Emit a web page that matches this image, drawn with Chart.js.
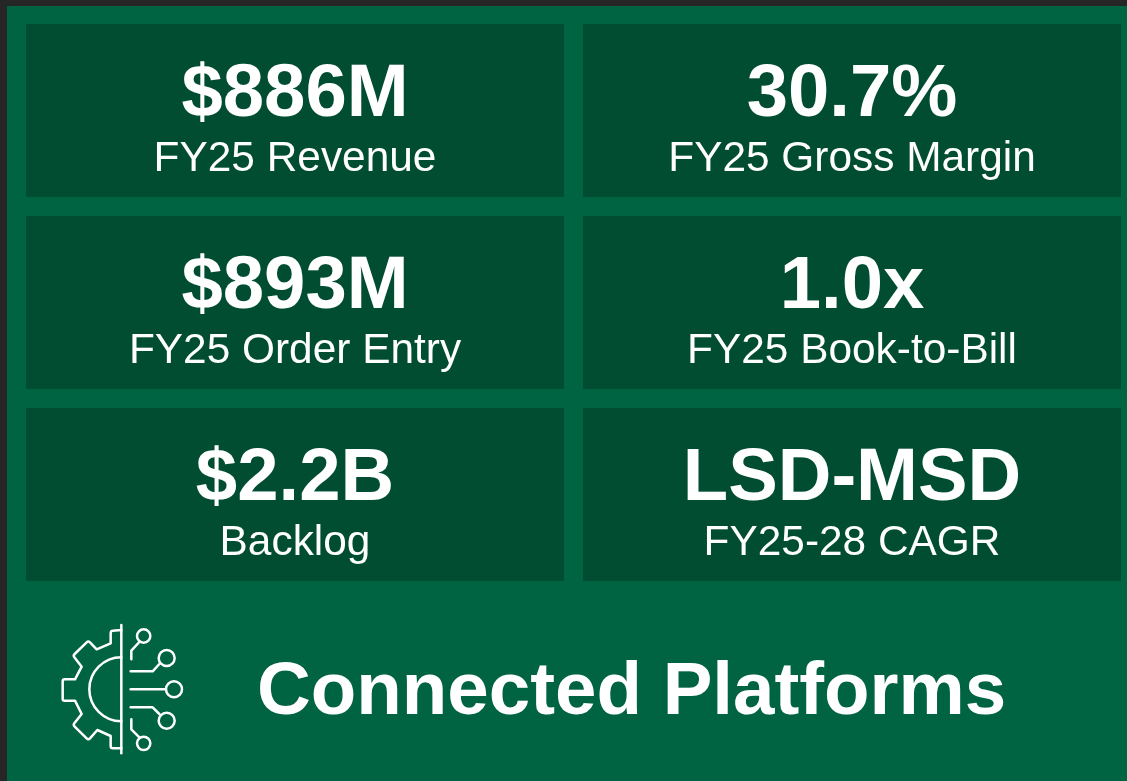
<!DOCTYPE html>
<html>
<head>
<meta charset="utf-8">
<title>Connected Platforms</title>
<script src="https://cdn.jsdelivr.net/npm/chart.js@4"></script>
<style>
  html, body { margin: 0; padding: 0; width: 1127px; height: 781px; overflow: hidden; background: #262626; }
  #panel { position: absolute; left: 7px; top: 6px; width: 1120px; height: 775px; background: #006341; }
  #wrap { position: absolute; left: 0; top: 0; width: 1140px; height: 781px; }
  #icon { position: absolute; left: 40px; top: 610px; width: 160px; height: 160px; }
  #icon * { fill: none; stroke: #fff; stroke-width: 7.5; stroke-linecap: round; stroke-linejoin: round; }
</style>
</head>
<body>
<div id="panel"></div>
<div id="wrap"><canvas id="chart" width="1140" height="781"></canvas></div>

<svg id="icon" viewBox="0 0 480 480">
  <path d="M244 60L218 62Q212 62 212 70V100L170 118L150 97Q145 92 140 97L104 132Q99 137 103 142L125 170L105 208H74Q68 208 68 214V266Q68 272 74 272H105L125 312L103 340Q99 345 104 350L140 385Q145 390 150 385L172 360L212 378V408Q212 415 218 415L244 415"/>
  <path d="M244 142A96 96 0 0 0 244 334"/>
  <path d="M244 45V430"/>
  <path d="M274 148V122L298 96"/><circle cx="311" cy="78" r="20"/>
  <path d="M272 184H338L358 162"/><circle cx="380" cy="144" r="24"/>
  <path d="M272 238H376"/><circle cx="402" cy="238" r="24"/>
  <path d="M272 292H338L358 312"/><circle cx="380" cy="332" r="24"/>
  <path d="M274 328V358L298 382"/><circle cx="311" cy="400" r="20"/>
</svg>

<script>
const columns = ['left', 'right'];
const rows = ['top', 'middle', 'bottom'];
const kpiValues = [
  ['$886M', '30.7%'],
  ['$893M', '1.0x'],
  ['$2.2B', 'LSD-MSD']
];
const kpiLabels = [
  ['FY25 Revenue', 'FY25 Gross Margin'],
  ['FY25 Order Entry', 'FY25 Book-to-Bill'],
  ['Backlog', 'FY25-28 CAGR']
];
const footerText = 'Connected Platforms';

const TILE_COLOR = '#004d31';
const FONT = '"Liberation Sans", Arial, sans-serif';

// each tile is a floating bar inside its row band
const rowGap = 9.5 / 192;
const tileRange = (i) => {
  const base = rows.length - 1 - i;
  return [base + rowGap, base + 1 - rowGap];
};

const tileText = {
  id: 'tileText',
  afterDatasetsDraw(chart) {
    const ctx = chart.ctx;
    ctx.save();
    ctx.fillStyle = '#ffffff';
    ctx.textAlign = 'center';
    ctx.textBaseline = 'alphabetic';
    rows.forEach((r, i) => {
      chart.getDatasetMeta(i).data.forEach((bar, j) => {
        const mid = (bar.y + bar.base) / 2;
        ctx.font = 'bold 74.3px ' + FONT;
        ctx.fillText(kpiValues[i][j], bar.x, mid + 5);
        ctx.font = '42.4px ' + FONT;
        ctx.fillText(kpiLabels[i][j], bar.x, mid + 60);
      });
    });
    ctx.textAlign = 'left';
    ctx.font = 'bold 74.5px ' + FONT;
    ctx.fillText(footerText, 257, 714);
    ctx.restore();
  }
};

new Chart(document.getElementById('chart'), {
  type: 'bar',
  data: {
    labels: columns,
    datasets: rows.map((r, i) => ({
      label: r,
      data: columns.map(() => tileRange(i)),
      backgroundColor: TILE_COLOR,
      borderWidth: 0,
      grouped: false,
      categoryPercentage: 1,
      barPercentage: 538 / 557
    }))
  },
  options: {
    responsive: false,
    animation: false,
    layout: { padding: { left: 16.5, right: 9.5, top: 14.5, bottom: 190.5 } },
    scales: {
      x: { display: false },
      y: { display: false, min: 0, max: rows.length }
    },
    plugins: {
      legend: { display: false },
      tooltip: { enabled: false }
    }
  },
  plugins: [tileText]
});
</script>
</body>
</html>
